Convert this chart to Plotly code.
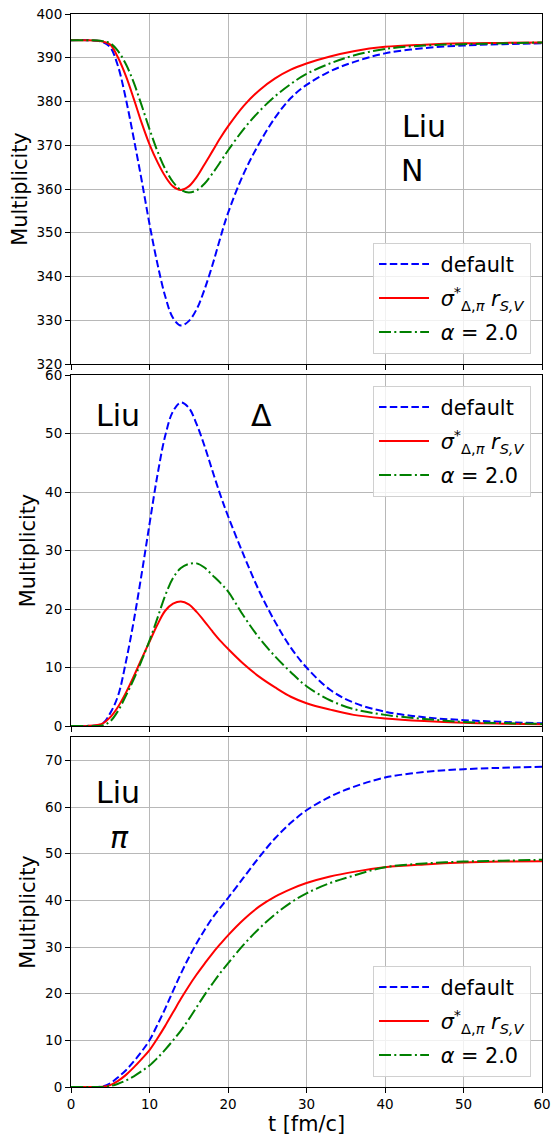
import plotly.graph_objects as go

# ---------------- data ----------------
t = [0, 2, 4, 5, 6, 7, 8, 9, 10, 11, 12, 13, 14, 15, 16, 17, 18, 19, 20,
     22, 24, 26, 28, 30, 33, 36, 40, 45, 50, 55, 60]

NB = "\u00a0"
legend_labels = [NB + "default",
                 NB + "<i>σ</i><sup>*</sup><sub>Δ,<i>π</i></sub> <i>r</i><sub><i>S,V</i></sub>",
                 NB + "<i>α</i> = 2.0"]

# Nucleons (N)
N_default = [394, 394, 393.6, 392.4, 388, 380.5, 371.5, 362, 352, 343, 335.5, 330.5,
             328.8, 329.8, 332.5, 337, 342.5, 348.7, 354.5, 363.5, 370.5, 376.3,
             380.8, 383.8, 386.9, 389, 391, 392.2, 392.8, 393.1, 393.3]
N_sigma = [394, 394, 393.7, 393, 390, 385.8, 380.6, 375.1, 370.2, 366.2, 362.9, 360.6,
           359.8, 360.6, 362.7, 365.6, 368.6, 371.6, 374.3, 379, 382.6, 385.3,
           387.3, 388.7, 390.3, 391.5, 392.5, 393, 393.3, 393.4, 393.5]
N_alpha = [394, 394, 393.8, 393.3, 391.5, 388.5, 384.3, 379.1, 373.7, 368.7, 364.6,
           361.6, 359.8, 359.2, 359.7, 361.2, 363.5, 366.1, 368.8, 373.7, 377.8,
           381.2, 384, 386.3, 388.7, 390.5, 392, 392.8, 393.1, 393.3, 393.5]

# Deltas
D_default = [0, 0, 0.4, 2.2, 5.2, 11, 18, 26, 34.5, 42.8, 49.6, 53.8, 55.3, 54.4, 51.6,
             47.9, 43.7, 39.6, 35.9, 29.2, 23.0, 17.8, 13.4, 10.0, 6.2, 4.0, 2.45, 1.5,
             1.0, 0.7, 0.45]
D_sigma = [0, 0, 0.4, 1.5, 3.3, 5.7, 8.5, 11.5, 14.4, 17.3, 19.7, 20.9, 21.3, 20.8,
           19.5, 17.9, 16.2, 14.6, 13.2, 10.6, 8.4, 6.6, 5.0, 3.9, 2.8, 1.9, 1.3,
           0.85, 0.55, 0.4, 0.3]
D_alpha = [0, 0, 0.1, 0.8, 2.6, 5.2, 8, 11.2, 14.6, 18.4, 22.3, 25.3, 27, 27.7,
           27.8, 27.1, 25.8, 24.5, 23, 18.8, 15, 11.9, 9.2, 6.8, 4.4, 2.9, 1.9, 1.2,
           0.7, 0.5, 0.35]

# Pions
P_default = [0, 0, 0.1, 0.8, 2.1, 3.6, 5.5, 7.6, 10, 13.3, 16.8, 20.6, 24.3, 27.7,
             30.8, 33.6, 36.2, 38.4, 40.5, 44.9, 49.3, 53.3, 56.6, 59.3, 62.2, 64.3,
             66.3, 67.5, 68.1, 68.4, 68.6]
P_sigma = [0, 0, 0.05, 0.4, 1.3, 2.6, 4.2, 6, 7.9, 10.4, 13.1, 16, 18.9, 21.6, 24.1,
           26.4, 28.6, 30.6, 32.5, 35.9, 38.7, 40.8, 42.4, 43.7, 45.1, 46.1, 47.1,
           47.7, 48.1, 48.3, 48.4]
P_alpha = [0, 0, 0.02, 0.2, 0.7, 1.4, 2.3, 3.4, 4.6, 6.2, 8, 10, 12.1, 14.5, 17.1,
           19.7, 22.1, 24.4, 26.5, 30.5, 34, 37, 39.5, 41.5, 43.7, 45.3, 47.1, 47.9,
           48.3, 48.5, 48.7]

panels = [
    dict(data=[N_default, N_sigma, N_alpha], yrange=[320, 400], ticks=list(range(320, 401, 10))),
    dict(data=[D_default, D_sigma, D_alpha], yrange=[0, 60], ticks=list(range(0, 61, 10))),
    dict(data=[P_default, P_sigma, P_alpha], yrange=[0, 75], ticks=list(range(0, 71, 10))),
]

# ---------------- style ----------------
colors = ["#0000ff", "#ff0000", "#008000"]
dashes = ["7.5px,3.3px", "solid", "12px,3.3px,2px,3.3px"]
FONT = "DejaVu Sans"

W, H = 554, 1136
ML, MR, MT, MB = 71, 12, 14, 49
PH = H - MT - MB
PW = W - ML - MR
domains = [[(PH - 350) / PH, 1.0], [(PH - 712) / PH, (PH - 361) / PH], [0.0, 350 / PH]]

fig = go.Figure()
legend_names = ["legend", "legend2", "legend3"]
for i, p in enumerate(panels):
    xa = "x" if i == 0 else f"x{i+1}"
    ya = "y" if i == 0 else f"y{i+1}"
    for k in range(3):
        fig.add_trace(go.Scatter(
            x=t, y=p["data"][k], mode="lines", name=legend_labels[k],
            line=dict(color=colors[k], width=2, dash=dashes[k], shape="spline", smoothing=1.0),
            xaxis=xa, yaxis=ya, legend=legend_names[i], showlegend=True,
            legendgroup=f"g{i}{k}",
        ))

axis_common = dict(showline=True, linecolor="black", linewidth=1, mirror=True,
                   showgrid=True, gridcolor="#b8b8b8", gridwidth=0.8,
                   ticks="outside", ticklen=5, tickwidth=1, tickcolor="black",
                   zeroline=False, automargin=False,
                   tickfont=dict(family=FONT, size=13.5, color="black"))

layout = dict(width=W, height=H, margin=dict(l=ML, r=MR, t=MT, b=MB, autoexpand=False),
              paper_bgcolor="white", plot_bgcolor="white",
              font=dict(family=FONT, color="black"))

for i, p in enumerate(panels):
    xk = "xaxis" if i == 0 else f"xaxis{i+1}"
    yk = "yaxis" if i == 0 else f"yaxis{i+1}"
    ya = "y" if i == 0 else f"y{i+1}"
    xa = "x" if i == 0 else f"x{i+1}"
    xdict = dict(axis_common, range=[0, 60], tickvals=[0, 10, 20, 30, 40, 50, 60],
                 anchor=ya, domain=[0, 1], showticklabels=(i == 2))
    if i > 0:
        xdict["matches"] = "x"
    if i == 2:
        xdict["title"] = dict(text="t [fm/c]", font=dict(family=FONT, size=20.8, color="black"),
                              standoff=4)
    ydict = dict(axis_common, range=p["yrange"], tickvals=p["ticks"], anchor=xa,
                 domain=domains[i],
                 title=dict(text="Multiplicity", font=dict(family=FONT, size=20.8, color="black"),
                            standoff=3))
    layout[xk] = xdict
    layout[yk] = ydict

leg_common = dict(bgcolor="rgba(255,255,255,0.8)", bordercolor="#d0d0d0", borderwidth=1,
                  font=dict(family=FONT, size=20.8, color="black"),
                  xanchor="right", x=(531 - ML) / PW, itemwidth=50, tracegroupgap=4)
layout["legend"] = dict(leg_common, yanchor="bottom", y=(1087 - 354) / PH)
layout["legend2"] = dict(leg_common, yanchor="top", y=(1087 - 386) / PH)
layout["legend3"] = dict(leg_common, yanchor="bottom", y=(1087 - 1077) / PH)

fig.update_layout(**layout)

annots = [
    ("x", "y", 45.0, 374.4, "Liu"), ("x", "y", 43.4, 364.3, "N"),
    ("x2", "y2", 6.0, 53.0, "Liu"), ("x2", "y2", 24.3, 53.0, "Δ"),
    ("x3", "y3", 6.0, 63.2, "Liu"), ("x3", "y3", 6.2, 53.4, "<i>π</i>"),
]
for xr, yr, xv, yv, txt in annots:
    fig.add_annotation(x=xv, y=yv, xref=xr, yref=yr, text=txt, showarrow=False,
                       font=dict(family=FONT, size=30, color="black"),
                       xanchor="center", yanchor="middle")

fig.write_html("out.html", config={"displayModeBar": False},
               post_script="document.body.style.margin='0';document.body.style.padding='0';")
